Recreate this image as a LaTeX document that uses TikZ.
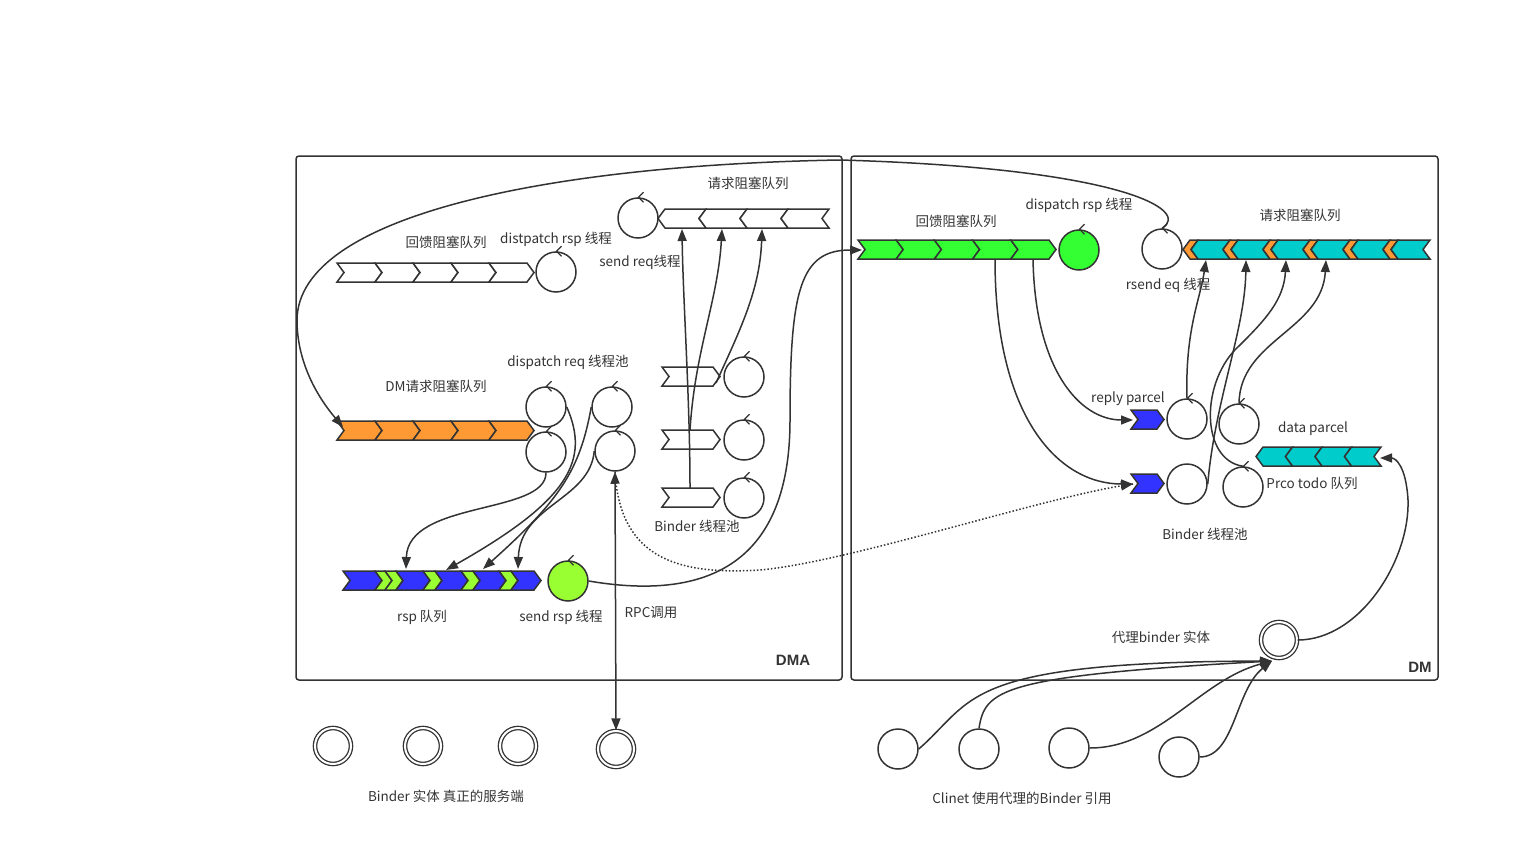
\documentclass[tikz,border=0pt]{standalone}
\usepackage{fontspec}
\setmainfont{Noto Sans CJK SC}
\newfontfamily\tagfont{Liberation Sans}
\usetikzlibrary{arrows.meta}

\definecolor{ink}{HTML}{333333}
\definecolor{qorange}{HTML}{FF9933}
\definecolor{qgreen}{HTML}{33FF33}
\definecolor{qlime}{HTML}{99FF33}
\definecolor{qblue}{HTML}{3333FF}
\definecolor{qcyan}{HTML}{00CCCC}

\tikzset{
  frame/.style={draw=ink, line width=1.5pt, rounded corners=3pt},
  qline/.style={draw=ink, line width=1.5pt, line join=miter},
  thread/.style={circle, draw=ink, line width=1.5pt, minimum size=40pt, inner sep=0pt},
  entity/.style={circle, draw=ink, double=white, double distance=2pt, line width=1.3pt, minimum size=36pt, inner sep=0pt},
  flow/.style={draw=ink, line width=1.5pt, -{Triangle[length=12pt,width=9pt]}},
  txt/.style={font=\fontsize{13.5}{15}\selectfont, text=ink},
  tag/.style={font=\tagfont\bfseries\fontsize{15}{17}\selectfont, text=ink},
}

% queue cells: x, top y, width, fill
\newcommand{\segR}[4]{\filldraw[qline, fill=#4] (#1,#2) -- ++(#3,0) -- ++(7,9.5) -- ++(-7,9.5) -- ++(-#3,0) -- ++(7,-9.5) -- cycle;}
\newcommand{\segL}[4]{\filldraw[qline, fill=#4] (#1,#2+9.5) -- ++(7,-9.5) -- ++(#3,0) -- ++(-7,9.5) -- ++(7,9.5) -- ++(-#3,0) -- cycle;}
% little turn mark on top of a thread
\newcommand{\spin}[1]{\draw[ink, line width=1.2pt] ([xshift=5.5pt,yshift=5pt]#1.north) -- ([xshift=0.5pt]#1.north) -- ([xshift=5.5pt,yshift=-5pt]#1.north);}

\begin{document}
\begin{tikzpicture}[x=1pt, y=-1pt]
\useasboundingbox (0,0) rectangle (1531,848);

% process boxes
\draw[frame] (296,156) rectangle (842,680);
\draw[frame] (851,156) rectangle (1438,680);
\node[tag] (dmaTag) at (793,660) {DMA};
\node[tag] (dmTag) at (1420,667) {DM};

%%%%%%%% DMA side
% feedback queue + dispatch rsp
\foreach \i in {0,...,4} \segR{337+38*\i}{263}{38}{white};
\node[thread] (drsp) at (556,272) {};
\node[txt] (fbLbl) at (446,242) {回馈阻塞队列};
\node[txt] (drspLbl) at (556,239) {distpatch rsp 线程};

% request queue + send req
\foreach \i in {0,...,3} \segL{658+41*\i}{209}{41}{white};
\node[thread] (sreq) at (638,218) {};
\node[txt] (reqLbl) at (748,183) {请求阻塞队列};
\node[txt] (sreqLbl) at (640,262) {send req线程};
\coordinate (reqA) at (682,229);
\coordinate (reqB) at (722,229);
\coordinate (reqC) at (762,229);

% DM request queue
\foreach \i in {0,...,4} \segR{337+38*\i}{421}{38}{qorange};
\node[txt] (dmreqLbl) at (436,386) {DM请求阻塞队列};
\coordinate (dmreqIn) at (343,427);

% dispatch req pool
\node[thread] (dreqA) at (546,407) {};
\node[thread] (dreqB) at (546,452) {};
\node[thread] (dreqC) at (612,407) {};
\node[thread] (dreqD) at (615,451) {};
\node[txt] (dreqLbl) at (568,362) {dispatch req 线程池};

% binder pool
\foreach \y in {367,430,488} \segR{662}{\y}{51}{white};
\node[thread] (poolA) at (744,377) {};
\node[thread] (poolB) at (744,440) {};
\node[thread] (poolC) at (744,498) {};
\node[txt] (poolLbl) at (697,526) {Binder 线程池};
\coordinate (cellA) at (716,383);
\coordinate (cellB) at (690,430);
\coordinate (cellC) at (690,488);

% rsp queue + send rsp
\segR{343}{571}{32}{qblue}
\segR{375}{571}{10}{qlime}
\segR{385}{571}{11}{qlime}
\segR{396}{571}{27}{qblue}
\segR{423}{571}{12}{qlime}
\segR{435}{571}{26}{qblue}
\segR{461}{571}{12}{qlime}
\segR{473}{571}{26}{qblue}
\segR{499}{571}{12}{qlime}
\segR{511}{571}{23}{qblue}
\node[thread, fill=qlime] (srsp) at (568,581) {};
\node[txt] (rspLbl) at (422,617) {rsp 队列};
\node[txt] (srspLbl) at (561,617) {send rsp 线程};
\node[txt] (rpcLbl) at (651,613) {RPC调用};
\coordinate (rspA) at (406,569);
\coordinate (rspB) at (446,570);
\coordinate (rspC) at (483,569);
\coordinate (rspD) at (518,569);

%%%%%%%% DM side
\foreach \i in {0,...,4} \segR{858+38.2*\i}{240}{38.2}{qgreen};
\node[thread, fill=qgreen] (dmdrsp) at (1079,250) {};
\node[txt] (dmfbLbl) at (956,221) {回馈阻塞队列};
\node[txt] (dmdrspLbl) at (1079,205) {dispatch rsp 线程};
\coordinate (dmfbIn) at (862,250);
\coordinate (dmfbA) at (995,259);
\coordinate (dmfbB) at (1033,259);

\node[thread] (rsend) at (1162,249) {};
\node[txt] (rsendLbl) at (1168,285) {rsend eq 线程};
\foreach \i in {0,...,5} {
  \segL{1183+40*\i}{240}{8}{qorange}
  \segL{1191+40*\i}{240}{32}{qcyan}
}
\node[txt] (dmreqqLbl) at (1300,215) {请求阻塞队列};
\coordinate (dmqA) at (1206,260);
\coordinate (dmqB) at (1246,260);
\coordinate (dmqC) at (1286,260);
\coordinate (dmqD) at (1326,260);

% parcels and binder pool
\segR{1131}{410}{26}{qblue}
\segR{1131}{474}{26}{qblue}
\coordinate (replyIn) at (1133,420);
\coordinate (callIn) at (1133,484);
\node[txt] (replyLbl) at (1128,399) {reply parcel};
\node[thread] (dmA) at (1187,419) {};
\node[thread] (dmB) at (1239,424) {};
\node[thread] (dmC) at (1187,484) {};
\node[thread] (dmD) at (1243,487) {};
\node[txt] (dmpoolLbl) at (1205,534) {Binder 线程池};

\foreach \i in {0,...,3} \segL{1256+29.5*\i}{447}{29.5}{qcyan};
\node[txt] (dataLbl) at (1313,429) {data parcel};
\node[txt] (todoLbl) at (1312,483) {Prco todo 队列};
\coordinate (dataIn) at (1380,458);

\node[entity] (proxy) at (1279,640) {};
\node[txt] (proxyLbl) at (1161,637) {代理binder 实体};
\coordinate (proxyIn) at (1272,661);

%%%%%%%% outside
\node[entity] (entA) at (333,746) {};
\node[entity] (entB) at (423,746) {};
\node[entity] (entC) at (518,746) {};
\node[entity] (entD) at (616,749) {};
\node[txt] (entLbl) at (446,796) {Binder 实体 真正的服务端};

\node[thread] (cliA) at (898,749) {};
\node[thread] (cliB) at (979,749) {};
\node[thread] (cliC) at (1069,748) {};
\node[thread] (cliD) at (1179,757) {};
\node[txt] (cliLbl) at (1022,798) {Clinet 使用代理的Binder 引用};

% turn marks
\foreach \t in {drsp,sreq,dreqA,dreqB,dreqC,dreqD,poolA,poolB,poolC,srsp,dmdrsp,rsend,dmA,dmB,dmD} \spin{\t};

%%%%%%%% connectors
% binder pool -> request queue
\draw[flow] (cellC) .. controls (690,400) and (683,300) .. (reqA);
\draw[flow] (cellB) .. controls (695,350) and (718,300) .. (reqB);
\draw[flow] (cellA) .. controls (740,330) and (760,290) .. (reqC);

% rsend eq -> DM request queue (long way round)
\draw[flow] (rsend.north) .. controls (1192,210) and (1120,168) .. (840,160)
  .. controls (550,165) and (298,215) .. (297,320)
  .. controls (297,365) and (320,400) .. (dmreqIn);

% dispatch req -> rsp queue
\draw[flow] (dreqB.south) .. controls (546,515) and (408,500) .. (rspA);
\draw[flow] (dreqA.east) .. controls (590,460) and (570,500) .. (rspB);
\draw[flow] (dreqC.west) .. controls (580,470) and (560,500) .. (rspC);
\draw[flow] (dreqD.west) .. controls (590,500) and (520,505) .. (rspD);

% send rsp -> DM feedback queue
\draw[flow] (srsp.east) .. controls (700,600) and (790,570) .. (790,420)
  .. controls (790,290) and (800,250) .. (dmfbIn);

% RPC call
\draw[draw=ink, line width=1.5pt, {Triangle[length=12pt,width=9pt]}-{Triangle[length=12pt,width=9pt]}] (dreqD.south) -- (entD.north);
\draw[ink, line width=1.5pt, dotted] (dreqD.south) .. controls (620,560) and (680,575) .. (760,570)
  .. controls (850,562) and (1050,495) .. (callIn);
\draw[draw=ink, line width=1.5pt, -{Triangle[length=12pt,width=9pt]}] (1128,484.8) -- (callIn);

% DM feedback queue -> parcels
\draw[flow] (dmfbA) .. controls (995,420) and (1060,484) .. (callIn);
\draw[flow] (dmfbB) .. controls (1035,370) and (1080,420) .. (replyIn);

% DM binder pool -> DM request queue
\draw[flow] (dmA.north) .. controls (1185,330) and (1200,300) .. (dmqA);
\draw[flow] (dmC.east) .. controls (1215,400) and (1245,330) .. (dmqB);
\draw[flow] (dmD.north) .. controls (1200,460) and (1200,380) .. (1240,345) .. controls (1265,320) and (1284,300) .. (dmqC);
\draw[flow] (dmB.north) .. controls (1240,340) and (1322,330) .. (dmqD);

% proxy -> data parcel
\draw[flow] (proxy.east) .. controls (1360,640) and (1410,560) .. (1408,500)
  .. controls (1406,465) and (1395,458) .. (dataIn);

% clients -> proxy
\draw[flow] (cliA.east) .. controls (975,700) and (960,662) .. (proxyIn);
\draw[flow] (cliB.north) .. controls (985,690) and (1000,676) .. (proxyIn);
\draw[flow] (cliC.east) .. controls (1160,748) and (1200,680) .. (proxyIn);
\draw[flow] (cliD.east) .. controls (1235,757) and (1235,690) .. (proxyIn);
\end{tikzpicture}
\end{document}
